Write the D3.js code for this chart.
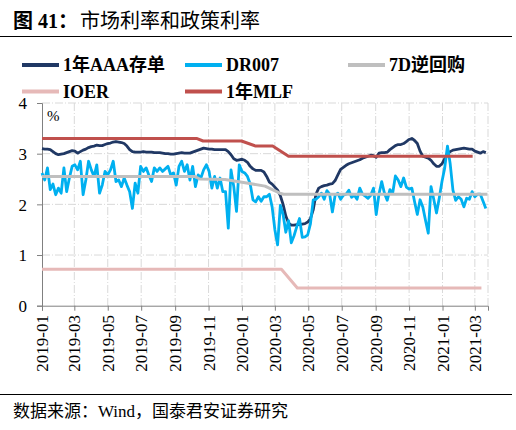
<!DOCTYPE html>
<html>
<head>
<meta charset="utf-8">
<script src="https://cdn.jsdelivr.net/npm/d3@7"></script>
<style>
  html, body { margin: 0; padding: 0; background: #fff; }
  svg { display: block; }
  text { font-family: "Liberation Serif", "Noto Sans CJK SC", serif; fill: #000; }
</style>
</head>
<body>
<div id="chart"></div>
<script>
// fechas cada 5 dias (1年AAA存单 y DR007)
const dates = [
  "2019-01-01","2019-01-06","2019-01-11","2019-01-16","2019-01-21","2019-01-26","2019-01-31","2019-02-05","2019-02-10","2019-02-15",
  "2019-02-20","2019-02-25","2019-03-02","2019-03-07","2019-03-12","2019-03-17","2019-03-22","2019-03-27","2019-04-01","2019-04-06",
  "2019-04-11","2019-04-16","2019-04-21","2019-04-26","2019-05-01","2019-05-06","2019-05-11","2019-05-16","2019-05-21","2019-05-26",
  "2019-05-31","2019-06-05","2019-06-10","2019-06-15","2019-06-20","2019-06-25","2019-06-30","2019-07-05","2019-07-10","2019-07-15",
  "2019-07-20","2019-07-25","2019-07-30","2019-08-04","2019-08-09","2019-08-14","2019-08-19","2019-08-24","2019-08-29","2019-09-03",
  "2019-09-08","2019-09-13","2019-09-18","2019-09-23","2019-09-28","2019-10-03","2019-10-08","2019-10-13","2019-10-18","2019-10-23",
  "2019-10-28","2019-11-02","2019-11-07","2019-11-12","2019-11-17","2019-11-22","2019-11-27","2019-12-02","2019-12-07","2019-12-12",
  "2019-12-17","2019-12-22","2019-12-27","2020-01-01","2020-01-06","2020-01-11","2020-01-16","2020-01-21","2020-01-26","2020-01-31",
  "2020-02-05","2020-02-10","2020-02-15","2020-02-20","2020-02-25","2020-03-01","2020-03-06","2020-03-11","2020-03-16","2020-03-21",
  "2020-03-26","2020-03-31","2020-04-05","2020-04-10","2020-04-15","2020-04-20","2020-04-25","2020-04-30","2020-05-05","2020-05-10",
  "2020-05-15","2020-05-20","2020-05-25","2020-05-30","2020-06-04","2020-06-09","2020-06-14","2020-06-19","2020-06-24","2020-06-29",
  "2020-07-04","2020-07-09","2020-07-14","2020-07-19","2020-07-24","2020-07-29","2020-08-03","2020-08-08","2020-08-13","2020-08-18",
  "2020-08-23","2020-08-28","2020-09-02","2020-09-07","2020-09-12","2020-09-17","2020-09-22","2020-09-27","2020-10-02","2020-10-07",
  "2020-10-12","2020-10-17","2020-10-22","2020-10-27","2020-11-01","2020-11-06","2020-11-11","2020-11-16","2020-11-21","2020-11-26",
  "2020-12-01","2020-12-06","2020-12-11","2020-12-16","2020-12-21","2020-12-26","2020-12-31","2021-01-05","2021-01-10","2021-01-15",
  "2021-01-20","2021-01-25","2021-01-30","2021-02-04","2021-02-09","2021-02-14","2021-02-19","2021-02-24","2021-03-01","2021-03-06",
  "2021-03-11","2021-03-16","2021-03-21"
];

const aaa = [
  3.10,3.09,3.09,3.08,3.04,3.00,2.98,2.99,3.00,3.02,
  3.04,3.06,3.05,3.01,3.04,3.07,3.09,3.12,3.14,3.15,
  3.17,3.16,3.16,3.18,3.20,3.21,3.23,3.24,3.23,3.22,
  3.20,3.15,3.08,3.04,3.03,3.03,3.03,3.04,3.03,3.03,
  3.03,3.02,3.02,3.02,3.01,3.00,3.00,2.99,2.99,3.00,
  3.01,3.02,3.01,3.01,3.01,3.03,3.05,3.07,3.09,3.11,
  3.10,3.09,3.09,3.08,3.08,3.08,3.08,3.08,3.04,2.98,
  2.90,2.87,2.88,2.89,2.87,2.83,2.75,2.70,2.67,2.67,
  2.67,2.64,2.55,2.44,2.40,2.34,2.28,2.17,2.00,1.77,
  1.63,1.59,1.59,1.60,1.60,1.61,1.62,1.65,1.72,1.89,
  2.20,2.32,2.35,2.37,2.38,2.40,2.41,2.47,2.58,2.69,
  2.73,2.77,2.80,2.82,2.84,2.86,2.88,2.91,2.93,2.95,
  2.97,2.96,2.93,3.01,3.02,3.02,3.03,3.08,3.12,3.16,
  3.18,3.18,3.20,3.24,3.28,3.30,3.26,3.20,3.05,2.95,
  2.93,2.91,2.87,2.80,2.75,2.75,2.80,2.90,3.00,3.04,
  3.07,3.08,3.09,3.10,3.11,3.10,3.09,3.09,3.05,3.03,
  3.01,3.04,3.02
];

const dr007 = [
  2.62,2.48,2.72,2.29,2.40,2.19,2.32,2.22,2.72,2.25,
  2.52,2.75,2.78,2.68,2.85,2.19,2.48,2.85,2.68,2.55,
  2.78,2.22,2.38,2.65,2.58,2.68,2.85,2.45,2.48,2.35,
  2.52,2.38,2.25,1.92,2.42,2.22,2.75,2.65,2.72,2.58,
  2.45,2.72,2.65,2.72,2.65,2.70,2.75,2.58,2.62,2.38,
  2.75,2.85,2.65,2.78,2.48,2.75,2.35,2.58,2.52,2.68,
  2.78,2.65,2.32,2.55,2.32,2.52,2.25,2.25,1.53,2.68,
  2.35,1.86,2.78,2.65,2.62,2.55,2.40,2.09,2.05,2.15,
  2.06,2.15,2.15,2.20,1.95,1.50,1.20,1.98,1.80,1.45,
  1.68,1.24,1.38,1.56,1.72,1.35,1.36,1.40,1.62,2.09,
  2.10,2.15,2.22,2.10,2.27,2.20,1.85,2.18,2.22,2.10,
  2.18,2.20,2.28,2.14,2.18,2.10,2.32,2.20,2.16,2.12,
  2.18,2.32,1.80,2.20,2.45,2.22,2.08,2.29,2.22,2.56,
  2.48,2.35,2.52,2.34,2.30,2.32,2.05,1.80,2.09,1.95,
  1.68,1.43,2.35,2.10,1.83,2.12,2.45,2.72,3.15,2.80,
  2.28,2.08,2.15,2.10,1.95,2.12,2.10,2.25,2.15,2.20,
  2.20,2.06,1.92
];

// tipos de politica (puntos de cambio)
const rr7dDates  = ["2019-01-01","2019-10-07","2019-10-16","2019-12-01","2020-01-15","2020-02-12","2020-03-10","2020-03-17","2021-03-24"];
const rr7dValues = [2.55, 2.55, 2.50, 2.49, 2.41, 2.36, 2.22, 2.20, 2.20];

const ioerDates  = ["2019-01-01","2020-03-13","2020-04-11","2021-03-13"];
const ioerValues = [0.72, 0.72, 0.35, 0.35];

const mlfDates  = ["2019-01-01","2019-10-10","2019-10-22","2019-12-31","2020-01-26","2020-02-26","2020-03-26","2021-02-25"];
const mlfValues = [3.30, 3.30, 3.25, 3.25, 3.15, 3.15, 2.95, 2.95];

const tickLabels = ["2019-01","2019-03","2019-05","2019-07","2019-09","2019-11","2020-01",
                    "2020-03","2020-05","2020-07","2020-09","2020-11","2021-01","2021-03"];
const yTicks = [0, 1, 2, 3, 4];

const width = 516, height = 430;
const parse = d3.timeParse("%Y-%m-%d");
const parseMonth = d3.timeParse("%Y-%m");

const svg = d3.select("#chart").append("svg")
  .attr("width", width).attr("height", height)
  .attr("viewBox", `0 0 ${width} ${height}`);

const x = d3.scaleTime()
  .domain([parse("2019-01-01"), parse("2021-03-25")])
  .range([42, 488]);
const y = d3.scaleLinear().domain([0, 4]).range([305.7, 103]);

// titulo
svg.append("text").attr("x", 13).attr("y", 28).style("font-size", "20px")
  .call(t => {
    t.append("tspan").style("font-weight", "bold").text("图 41：");
    t.append("tspan").attr("dx", 2).text("市场利率和政策利率");
  });
svg.append("line").attr("x1", 0).attr("x2", 512).attr("y1", 36.5).attr("y2", 36.5)
  .attr("stroke", "#000").attr("stroke-width", 1);

// rejilla
const grid = svg.append("g").attr("stroke", "#d9d9d9").attr("stroke-width", 1)
  .attr("stroke-dasharray", "8,2,1,2");
grid.selectAll("line.h").data(yTicks.filter(d => d > 0)).enter().append("line")
  .attr("x1", 42).attr("x2", 488).attr("y1", d => y(d)).attr("y2", d => y(d));
grid.selectAll("line.v").data(tickLabels.slice(1)).enter().append("line")
  .attr("x1", d => x(parseMonth(d))).attr("x2", d => x(parseMonth(d)))
  .attr("y1", y(4)).attr("y2", y(0));
grid.append("line").attr("x1", 488).attr("x2", 488).attr("y1", y(4)).attr("y2", y(0));

// eje Y
const yAxis = svg.append("g").attr("transform", "translate(42,0)")
  .call(d3.axisLeft(y).tickValues(yTicks).tickSize(5).tickPadding(10).tickFormat(d3.format("d")));
yAxis.select(".domain").attr("stroke", "#808080");
yAxis.selectAll(".tick line").attr("stroke", "#808080");
yAxis.selectAll(".tick text").style("font-size", "17px")
  .style("font-family", "'Liberation Serif', serif").attr("dy", "0.34em");

svg.append("text").attr("x", 47).attr("y", 121).style("font-size", "15px").text("%");

// eje X
const xAxis = svg.append("g").attr("transform", `translate(0,${y(0)})`)
  .call(d3.axisBottom(x).tickValues(tickLabels.map(parseMonth)).tickSize(5).tickFormat(""));
xAxis.select(".domain").attr("stroke", "#808080");
xAxis.selectAll(".tick line").attr("stroke", "#808080");
svg.append("g").selectAll("text").data(tickLabels).enter().append("text")
  .attr("transform", d => `translate(${x(parseMonth(d)) + 6},315) rotate(-90)`)
  .attr("text-anchor", "end").style("font-size", "17px").text(d => d);

// series
const line = d3.line().x(d => x(d[0])).y(d => y(d[1]));
const series = [
  { name: "1年AAA存单", color: "#203864", w: 2.8, data: dates.map((d, i) => [parse(d), aaa[i]]) },
  { name: "DR007",      color: "#00b0f0", w: 2.8, data: dates.map((d, i) => [parse(d), dr007[i]]) },
  { name: "7D逆回购",   color: "#bfbfbf", w: 3,   data: rr7dDates.map((d, i) => [parse(d), rr7dValues[i]]) },
  { name: "IOER",       color: "#e6b9b8", w: 3,   data: ioerDates.map((d, i) => [parse(d), ioerValues[i]]) },
  { name: "1年MLF",     color: "#c0504d", w: 3,   data: mlfDates.map((d, i) => [parse(d), mlfValues[i]]) }
];

svg.append("g").selectAll("path").data(series).enter().append("path")
  .attr("d", s => line(s.data)).attr("fill", "none")
  .attr("stroke", s => s.color).attr("stroke-width", s => s.w)
  .attr("stroke-linejoin", "round");

// leyenda
const legendPos = [[22, 65], [185, 65], [348, 65], [22, 91.5], [185, 91.5]];
const legend = svg.append("g").selectAll("g").data(series).enter().append("g")
  .attr("transform", (s, i) => `translate(${legendPos[i][0]},${legendPos[i][1]})`);
legend.append("line").attr("x1", 0).attr("x2", 37).attr("y1", 0).attr("y2", 0)
  .attr("stroke", s => s.color).attr("stroke-width", 4);
legend.append("text").attr("x", 41).attr("dy", "0.35em")
  .style("font-size", "18px").style("font-weight", "bold").text(s => s.name);

// fuente
svg.append("line").attr("x1", 0).attr("x2", 512).attr("y1", 394.5).attr("y2", 394.5)
  .attr("stroke", "#000").attr("stroke-width", 1);
svg.append("text").attr("x", 13).attr("y", 417).style("font-size", "17px")
  .text("数据来源：Wind，国泰君安证券研究");
</script>
</body>
</html>
